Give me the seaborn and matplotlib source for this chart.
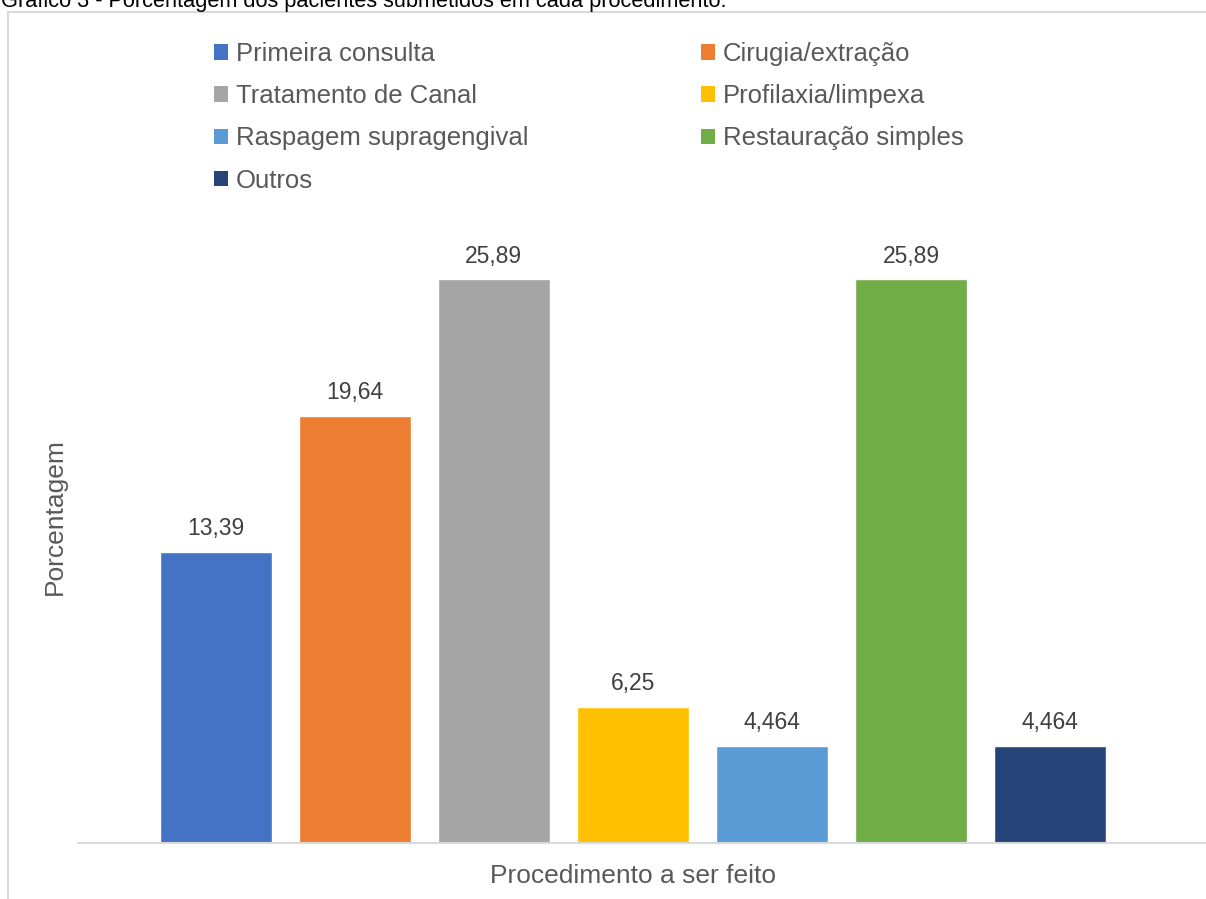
import matplotlib
matplotlib.use("Agg")
import matplotlib.pyplot as plt
from matplotlib.patches import Patch, Rectangle
import seaborn as sns
import pandas as pd

procedimentos = [
    "Primeira consulta",
    "Cirugia/extração",
    "Tratamento de Canal",
    "Profilaxia/limpexa",
    "Raspagem supragengival",
    "Restauração simples",
    "Outros",
]
porcentagens = [13.39, 19.64, 25.89, 6.25, 4.464, 25.89, 4.464]
cores = ["#4472C4", "#ED7D31", "#A5A5A5", "#FFC000", "#5B9BD5", "#70AD47", "#264478"]

titulo = "Gráfico 3 - Porcentagem dos pacientes submetidos em cada procedimento."
rotulo_x = "Procedimento a ser feito"
rotulo_y = "Porcentagem"

df = pd.DataFrame({"procedimento": procedimentos, "porcentagem": porcentagens})

sns.set_theme(style="white")
plt.rcParams["font.family"] = ["Liberation Sans", "DejaVu Sans"]

W, H = 1206, 899
fig = plt.figure(figsize=(W / 100, H / 100), dpi=100)
fig.patch.set_facecolor("white")

# axes box in pixel terms: x 78..1188, y (from top) 190..843
ax = fig.add_axes([78 / W, 56 / H, 1110 / W, 653 / H])

sns.barplot(
    data=df, x="procedimento", y="porcentagem", hue="procedimento",
    palette=cores, width=0.806, legend=False, ax=ax, saturation=1,
)

ax.set_xlim(-0.99, 6.99)
ax.set_ylim(0, 30)
ax.set_xticks([])
ax.set_yticks([])
for s in ["top", "right", "left"]:
    ax.spines[s].set_visible(False)
ax.spines["bottom"].set_color("#D9D9D9")
ax.spines["bottom"].set_linewidth(1.5)
ax.spines["bottom"].set_bounds(-0.99, 7.2)

ax.set_xlabel(rotulo_x, fontsize=19, color="#595959", labelpad=15)
ax.set_ylabel(rotulo_y, fontsize=19, color="#595959", labelpad=8)

# value labels over each bar
for i, v in enumerate(porcentagens):
    ax.annotate(
        str(v).replace(".", ","), xy=(i, v), xytext=(0, 12), textcoords="offset points",
        ha="center", va="baseline", fontsize=16.5, color="#404040",
    )

# legend in two columns, filled row by row
handles = [Patch(facecolor=c, edgecolor="none") for c in cores]
ordem = [0, 2, 4, 6, 1, 3, 5]
leg = fig.legend(
    [handles[i] for i in ordem], [procedimentos[i] for i in ordem],
    ncol=2, loc="upper left", bbox_to_anchor=(214 / W, 1 - 42 / H),
    frameon=False, fontsize=18.5, handlelength=0.55, handleheight=0.55,
    handletextpad=0.3, columnspacing=6.72, labelspacing=0.71, borderpad=0,
    borderaxespad=0,
)
for t in leg.get_texts():
    t.set_color("#595959")

# chart frame
fig.patches.append(Rectangle((8 / W, -0.1), 1.2, 1 - 12 / H + 0.1, transform=fig.transFigure,
                             fill=False, edgecolor="#D9D9D9", linewidth=1.5))

fig.text(1 / W, 1 - 7 / H, titulo, fontsize=15.7, color="black", ha="left", va="baseline")

fig.savefig("out.png", dpi=100)
